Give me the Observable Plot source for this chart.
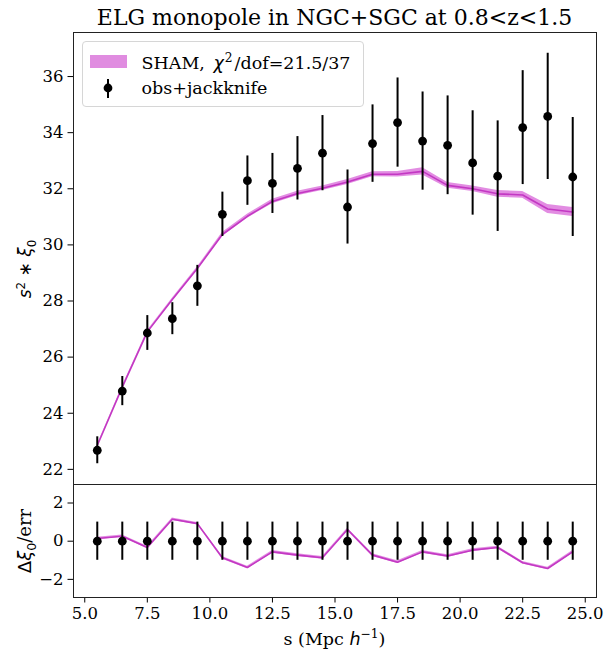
<!DOCTYPE html>
<html><head><meta charset="utf-8">
<script src="https://cdn.jsdelivr.net/npm/d3@7"></script>
<script src="https://cdn.jsdelivr.net/npm/@observablehq/plot@0.6"></script>
<style>
body{margin:0;background:#fff}
#c{position:relative;width:605px;height:655px;overflow:hidden;font-family:"DejaVu Serif";color:#000;background:#fff}
.abs{position:absolute;white-space:nowrap;line-height:1}
.plot{position:absolute;left:0}
</style>
</head><body><div id="c"></div>
<script>
// ---- data ----
const sep = [5.5, 6.5, 7.5, 8.5, 9.5, 10.5, 11.5, 12.5, 13.5, 14.5, 15.5, 16.5, 17.5, 18.5, 19.5, 20.5, 21.5, 22.5, 23.5, 24.5];
const obsXi = [22.68, 24.79, 26.86, 27.37, 28.54, 31.09, 32.29, 32.19, 32.73, 33.27, 31.35, 33.61, 34.36, 33.70, 33.55, 32.92, 32.45, 34.18, 34.58, 32.42];
const obsErr = [0.48, 0.52, 0.62, 0.57, 0.73, 0.79, 0.88, 1.07, 1.13, 1.34, 1.32, 1.38, 1.59, 1.75, 1.76, 1.86, 1.97, 2.03, 2.25, 2.12];
const shamXi = [22.85, 24.93, 26.90, 28.05, 29.16, 30.37, 31.02, 31.55, 31.83, 32.02, 32.24, 32.52, 32.52, 32.62, 32.12, 32.00, 31.82, 31.78, 31.28, 31.17];
const shamLo = [22.82, 24.90, 26.86, 28.00, 29.11, 30.30, 30.95, 31.47, 31.75, 31.94, 32.15, 32.43, 32.42, 32.49, 32.02, 31.90, 31.70, 31.66, 31.12, 31.01];
const shamHi = [22.88, 24.96, 26.94, 28.10, 29.21, 30.44, 31.09, 31.63, 31.91, 32.10, 32.33, 32.61, 32.62, 32.75, 32.22, 32.10, 31.94, 31.90, 31.44, 31.33];
const residual = [0.14, 0.26, -0.33, 1.15, 0.92, -0.87, -1.38, -0.56, -0.73, -0.87, 0.61, -0.73, -1.10, -0.56, -0.78, -0.47, -0.33, -1.13, -1.43, -0.56];
const residLo = [0.08, 0.20, -0.39, 1.09, 0.86, -0.94, -1.45, -0.63, -0.80, -0.94, 0.54, -0.80, -1.17, -0.63, -0.85, -0.54, -0.40, -1.20, -1.50, -0.63];
const residHi = [0.20, 0.32, -0.27, 1.21, 0.98, -0.80, -1.31, -0.49, -0.66, -0.80, 0.68, -0.66, -1.03, -0.49, -0.71, -0.40, -0.26, -1.06, -1.36, -0.49];
const obsResid = [0, 0, 0, 0, 0, 0, 0, 0, 0, 0, 0, 0, 0, 0, 0, 0, 0, 0, 0, 0];
const obsResidErr = [1, 1, 1, 1, 1, 1, 1, 1, 1, 1, 1, 1, 1, 1, 1, 1, 1, 1, 1, 1];
const xTicks = [5.0, 7.5, 10.0, 12.5, 15.0, 17.5, 20.0, 22.5, 25.0];
const yTicksTop = [22, 24, 26, 28, 30, 32, 34, 36];
const yTicksBottom = [-2, 0, 2];

const topRows = sep.map((s, i) => ({s, obs: obsXi[i], err: obsErr[i], model: shamXi[i], lo: shamLo[i], hi: shamHi[i]}));
const botRows = sep.map((s, i) => ({s, obs: obsResid[i], err: obsResidErr[i], model: residual[i], lo: residLo[i], hi: residHi[i]}));

const MAG_LINE = "#c338c3";
const MAG_BAND = "#bf00bf";
const xDomain = [4.55, 25.45];
const plotStyle = {fontFamily: "DejaVu Serif", fontSize: "16.5px", background: "transparent", color: "#000", overflow: "visible"};

const topPlot = Plot.plot({
  width: 605, height: 484,
  marginLeft: 73, marginRight: 9, marginTop: 32, marginBottom: 0,
  style: plotStyle,
  x: {domain: xDomain, axis: null},
  y: {domain: [21.46, 37.57], ticks: yTicksTop, tickSize: 5.5, tickPadding: 4.5, label: null, tickFormat: d3.format("d")},
  marks: [
    Plot.areaY(topRows, {x: "s", y1: "lo", y2: "hi", fill: MAG_BAND, fillOpacity: 0.45}),
    Plot.line(topRows, {x: "s", y: "model", stroke: MAG_LINE, strokeWidth: 1.6}),
    Plot.ruleX(topRows, {x: "s", y1: d => d.obs - d.err, y2: d => d.obs + d.err, stroke: "#000", strokeWidth: 2}),
    Plot.dot(topRows, {x: "s", y: "obs", r: 4.4, fill: "#000", stroke: "none"}),
    Plot.frame({stroke: "#222", strokeWidth: 1})
  ]
});

const botPlot = Plot.plot({
  width: 605, height: 171,
  marginLeft: 73, marginRight: 9, marginTop: 0, marginBottom: 58,
  style: plotStyle,
  x: {domain: xDomain, ticks: xTicks, tickSize: 5.5, tickPadding: 4, label: null, tickFormat: d3.format(".1f")},
  y: {domain: [-2.95, 2.97], ticks: yTicksBottom, tickSize: 5.5, tickPadding: 4.5, label: null, tickFormat: d3.format("d")},
  marks: [
    Plot.areaY(botRows, {x: "s", y1: "lo", y2: "hi", fill: MAG_BAND, fillOpacity: 0.45}),
    Plot.line(botRows, {x: "s", y: "model", stroke: MAG_LINE, strokeWidth: 1.6}),
    Plot.ruleX(botRows, {x: "s", y1: d => d.obs - d.err, y2: d => d.obs + d.err, stroke: "#000", strokeWidth: 2}),
    Plot.dot(botRows, {x: "s", y: "obs", r: 4.4, fill: "#000", stroke: "none"}),
    Plot.frame({stroke: "#222", strokeWidth: 1})
  ]
});

const c = document.getElementById("c");
const w1 = document.createElement("div"); w1.className = "plot"; w1.style.top = "0px"; w1.appendChild(topPlot); c.appendChild(w1);
const w2 = document.createElement("div"); w2.className = "plot"; w2.style.top = "484px"; w2.appendChild(botPlot); c.appendChild(w2);

function add(html, css) {
  const d = document.createElement("div");
  d.className = "abs";
  d.innerHTML = html;
  Object.assign(d.style, css);
  c.appendChild(d);
  return d;
}
// title
add("ELG monopole in NGC+SGC at 0.8&lt;z&lt;1.5", {left: "73px", width: "523px", textAlign: "center", top: "6.5px", fontSize: "22px"});
// y labels
add('<i>s</i><sup style="font-size:0.7em">2</sup> ∗ <i>ξ</i><sub style="font-size:0.7em">0</sub>',
  {left: "27px", top: "269px", transform: "translate(-50%,-50%) rotate(-90deg)", fontFamily: "DejaVu Sans", fontSize: "17px"});
add('<span style="font-family:DejaVu Sans">Δ<i>ξ</i><sub style="font-size:0.7em">0</sub></span>/err',
  {left: "27px", top: "541px", transform: "translate(-50%,-50%) rotate(-90deg)", fontSize: "18px"});
// x label
add('s (Mpc <i style="font-family:DejaVu Sans">h</i><sup style="font-size:0.7em">−1</sup>)',
  {left: "73px", width: "523px", textAlign: "center", top: "628px", fontSize: "17.5px"});
// legend
add("", {left: "81.5px", top: "41px", width: "280px", height: "64px", border: "1px solid #d6d6d6", borderRadius: "4px", background: "rgba(255,255,255,0.8)"});
add("", {left: "89.5px", top: "55px", width: "37px", height: "12.5px", background: "#e08ce0"});
add('<svg width="12" height="22" style="display:block"><line x1="6" y1="1" x2="6" y2="20" stroke="#000" stroke-width="2"/><circle cx="6" cy="10" r="4.4" fill="#000"/></svg>',
  {left: "101.7px", top: "78px"});
add('SHAM, <i style="font-family:DejaVu Sans;margin-left:3px">χ</i><sup style="font-size:0.7em;margin-left:1px;margin-right:2px">2</sup>/dof=21.5/37', {left: "141.5px", top: "52px", fontSize: "17.5px"});
add("obs+jackknife", {left: "141.5px", top: "79.5px", fontSize: "17.5px"});
</script>
</body></html>
